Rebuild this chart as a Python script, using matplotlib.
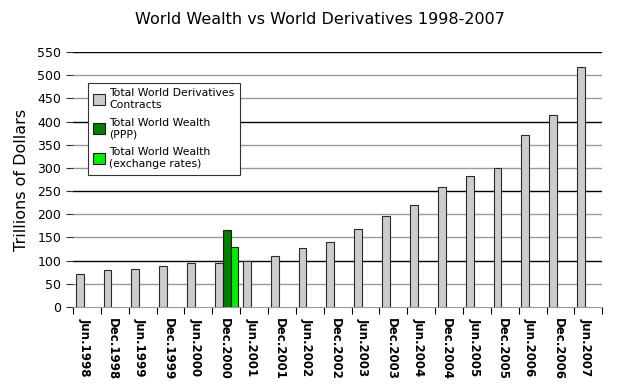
import numpy as np
import matplotlib.pyplot as plt

# Data (trillions of dollars)
periods = ['Jun.1998', 'Dec.1998', 'Jun.1999', 'Dec.1999', 'Jun.2000', 'Dec.2000',
           'Jun.2001', 'Dec.2001', 'Jun.2002', 'Dec.2002', 'Jun.2003', 'Dec.2003',
           'Jun.2004', 'Dec.2004', 'Jun.2005', 'Dec.2005', 'Jun.2006', 'Dec.2006',
           'Jun.2007']
derivatives = [72, 80, 82, 88, 94, 94, 100, 111, 127, 141, 169, 196,
               221, 259, 282, 300, 370, 415, 517]
wealth_ppp = {'Dec.2000': 166}
wealth_fx = {'Dec.2000': 129}

fig = plt.figure(figsize=(6.4, 3.84), dpi=100)
ax = fig.add_axes([0.114, 0.2005, 0.827, 0.664])

x = np.arange(len(periods))
w = 0.28
off = 0.1
ax.bar(x + off, derivatives, width=w, align='edge', color='#cccccc',
       edgecolor='#2a2a2a', linewidth=0.8, label='Total World Derivatives\nContracts', zorder=3)
ppp_x = [periods.index(k) for k in wealth_ppp]
fx_x = [periods.index(k) for k in wealth_fx]
ax.bar(np.array(ppp_x) + off + w, list(wealth_ppp.values()), width=w, align='edge',
       color='#007f00', edgecolor='#1a1a1a', linewidth=0.8,
       label='Total World Wealth\n(PPP)', zorder=3)
ax.bar(np.array(fx_x) + off + 2 * w, list(wealth_fx.values()), width=w, align='edge',
       color='#00ee00', edgecolor='#1a1a1a', linewidth=0.8,
       label='Total World Wealth\n(exchange rates)', zorder=3)

ax.set_xlim(0, len(periods))
ax.set_ylim(0, 550)
ax.set_yticks(range(0, 551, 50))
for v in range(50, 551, 50):
    c = 'black' if v % 150 == 100 else '#999999'
    ax.axhline(v, color=c, linewidth=1, zorder=1)

ax.set_xticks(np.arange(len(periods) + 1))
ax.set_xticklabels([])
ax.set_xticks(x + 0.42, minor=True)
ax.set_xticklabels(periods, minor=True, rotation=-90, fontweight='bold', fontsize=8.5)
ax.tick_params(axis='x', which='major', length=5, color='black')
ax.tick_params(axis='x', which='minor', length=0, pad=8)
ax.tick_params(axis='y', length=5, labelsize=9, colors='#333333', labelcolor='black')

for s in ['top', 'right', 'left']:
    ax.spines[s].set_visible(False)
ax.spines['bottom'].set_color('#999999')

ax.set_ylabel('Trillions of Dollars', fontsize=11.5, labelpad=6)
fig.suptitle('World Wealth vs World Derivatives 1998-2007', fontsize=11.5, y=0.97)

leg = ax.legend(loc='upper left', bbox_to_anchor=(0.028, 0.88), borderaxespad=0,
                fontsize=7.8, frameon=True, fancybox=False, edgecolor='#333333',
                framealpha=1, handlelength=1.1, handleheight=1.2, handletextpad=0.4,
                labelspacing=0.75, borderpad=0.5)
leg.get_frame().set_linewidth(0.8)

plt.savefig('out.png', dpi=100)
